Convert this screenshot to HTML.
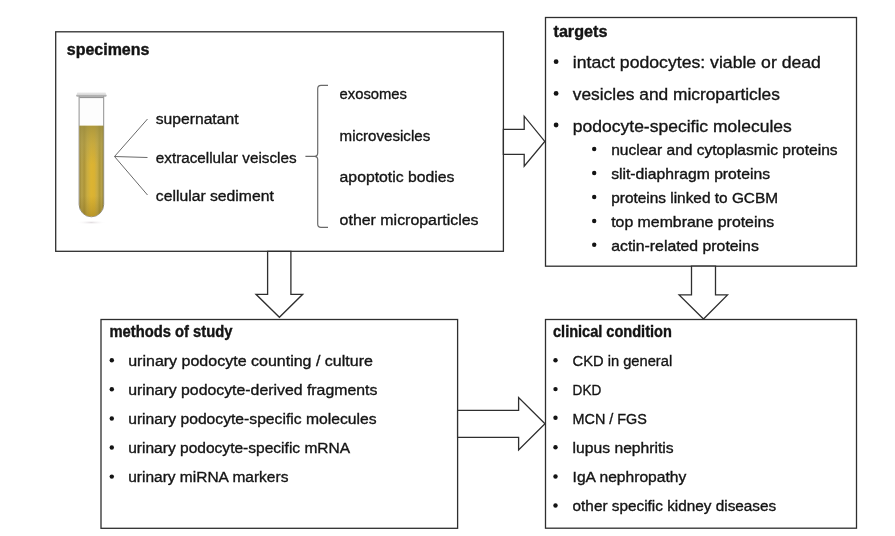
<!DOCTYPE html>
<html><head><meta charset="utf-8"><style>
html,body{margin:0;padding:0;background:#fff;}
body{width:895px;height:536px;overflow:hidden;}
svg{display:block;font-family:"Liberation Sans", sans-serif;will-change:transform;}
</style></head><body>
<svg width="895" height="536" viewBox="0 0 895 536">
<rect width="895" height="536" fill="#fff"/>

<defs>
 <linearGradient id="liq" x1="0" x2="1" y1="0" y2="0">
  <stop offset="0" stop-color="#9a8636"/>
  <stop offset="0.1" stop-color="#b8a24a"/>
  <stop offset="0.2" stop-color="#ad9438"/>
  <stop offset="0.32" stop-color="#c8ac42"/>
  <stop offset="0.48" stop-color="#dcb432"/>
  <stop offset="0.62" stop-color="#dab232"/>
  <stop offset="0.74" stop-color="#c8ac46"/>
  <stop offset="0.84" stop-color="#ae9838"/>
  <stop offset="0.93" stop-color="#b8a24c"/>
  <stop offset="1" stop-color="#948234"/>
 </linearGradient>
 <linearGradient id="liqv" x1="0" x2="0" y1="125.8" y2="218" gradientUnits="userSpaceOnUse">
  <stop offset="0" stop-color="#9a8c40" stop-opacity="0.7"/>
  <stop offset="0.2" stop-color="#aa9c50" stop-opacity="0.4"/>
  <stop offset="0.42" stop-color="#aa9c50" stop-opacity="0.0"/>
  <stop offset="0.76" stop-color="#6a5210" stop-opacity="0.0"/>
  <stop offset="0.92" stop-color="#6a5210" stop-opacity="0.2"/>
  <stop offset="1" stop-color="#6a5210" stop-opacity="0.32"/>
 </linearGradient>
 <linearGradient id="rim" x1="0" x2="0" y1="0" y2="1">
  <stop offset="0" stop-color="#e8e8e8"/>
  <stop offset="0.6" stop-color="#d8d8d8"/>
  <stop offset="1" stop-color="#a0a0a0"/>
 </linearGradient>
 <radialGradient id="shadow" cx="0.5" cy="0.5" r="0.5">
  <stop offset="0" stop-color="#e2dde0"/>
  <stop offset="1" stop-color="#fff" stop-opacity="0"/>
 </radialGradient>
</defs>
<ellipse cx="91.3" cy="222.5" rx="15" ry="2.2" fill="url(#shadow)"/>
<path d="M79.1,96 L79.1,204.5 A12.3,12.3 0 0 0 103.7,204.5 L103.7,96 Z" fill="#fdfdfd" stroke="#737373" stroke-width="0.8"/>
<path d="M79.4,125.8 L79.4,204.5 A12,12 0 0 0 103.4,204.5 L103.4,125.8 Z" fill="url(#liq)"/>
<path d="M79.4,125.8 L79.4,204.5 A12,12 0 0 0 103.4,204.5 L103.4,125.8 Z" fill="url(#liqv)"/>
<line x1="79.5" y1="97.6" x2="103.3" y2="97.6" stroke="#8a8a8a" stroke-width="1"/>
<path d="M77.3,92.6 L105.5,92.6 L106.8,96.0 L76.0,96.0 Z" fill="url(#rim)"/>
<line x1="76.5" y1="96.3" x2="106.3" y2="96.3" stroke="#a6a6a6" stroke-width="0.8"/>

<rect x="55.7" y="31.8" width="447.7" height="219.5" fill="none" stroke="#2e2e2e" stroke-width="1.3"/>
<rect x="545.5" y="17.5" width="311.0" height="248.7" fill="none" stroke="#2e2e2e" stroke-width="1.3"/>
<rect x="101" y="319.5" width="356.6" height="208.79999999999995" fill="none" stroke="#2e2e2e" stroke-width="1.3"/>
<rect x="545.5" y="319.5" width="311.0" height="208.70000000000005" fill="none" stroke="#2e2e2e" stroke-width="1.3"/>
<polygon points="503.4,129.3 524.2,129.3 524.2,116.2 544.8,141.4 524.2,166.1 524.2,154.4 503.4,154.4" fill="#fff" stroke="#2e2e2e" stroke-width="1.3" stroke-linejoin="miter"/>
<polygon points="267.6,251.3 290.9,251.3 290.9,294.3 302.7,294.3 279.4,317.3 256,294.3 267.6,294.3" fill="#fff" stroke="#2e2e2e" stroke-width="1.3" stroke-linejoin="miter"/>
<polygon points="691.5,266.2 715.5,266.2 715.5,294.85 727.5,294.85 703.5,319 679.1,294.85 691.5,294.85" fill="#fff" stroke="#2e2e2e" stroke-width="1.3" stroke-linejoin="miter"/>
<polygon points="457.6,410.4 518.6,410.4 518.6,397.5 545,423.8 518.6,450 518.6,437.3 457.6,437.3" fill="#fff" stroke="#2e2e2e" stroke-width="1.3" stroke-linejoin="miter"/>
<text x="66.8" y="55.0" font-size="16" font-weight="bold" textLength="82.6" lengthAdjust="spacingAndGlyphs" fill="#141414" stroke="#141414" stroke-width="0.4">specimens</text>
<text x="553.5" y="36.6" font-size="16" font-weight="bold" textLength="53.9" lengthAdjust="spacingAndGlyphs" fill="#141414" stroke="#141414" stroke-width="0.4">targets</text>
<text x="109.5" y="337.2" font-size="16" font-weight="bold" textLength="122.9" lengthAdjust="spacingAndGlyphs" fill="#141414" stroke="#141414" stroke-width="0.4">methods of study</text>
<text x="553" y="337.0" font-size="16" font-weight="bold" textLength="118.8" lengthAdjust="spacingAndGlyphs" fill="#141414" stroke="#141414" stroke-width="0.4">clinical condition</text>
<text x="155.8" y="123.5" font-size="15.4" textLength="82.7" lengthAdjust="spacingAndGlyphs" fill="#141414" stroke="#141414" stroke-width="0.35">supernatant</text>
<text x="155.8" y="163.0" font-size="15.4" textLength="140.8" lengthAdjust="spacingAndGlyphs" fill="#141414" stroke="#141414" stroke-width="0.35">extracellular veiscles</text>
<text x="155.8" y="200.8" font-size="15.4" textLength="118.0" lengthAdjust="spacingAndGlyphs" fill="#141414" stroke="#141414" stroke-width="0.35">cellular sediment</text>
<text x="339.6" y="99.0" font-size="15.4" textLength="67.4" lengthAdjust="spacingAndGlyphs" fill="#141414" stroke="#141414" stroke-width="0.35">exosomes</text>
<text x="339.6" y="140.8" font-size="15.4" textLength="90.6" lengthAdjust="spacingAndGlyphs" fill="#141414" stroke="#141414" stroke-width="0.35">microvesicles</text>
<text x="339.6" y="182.2" font-size="15.4" textLength="114.9" lengthAdjust="spacingAndGlyphs" fill="#141414" stroke="#141414" stroke-width="0.35">apoptotic bodies</text>
<text x="339.6" y="224.6" font-size="15.4" textLength="139.0" lengthAdjust="spacingAndGlyphs" fill="#141414" stroke="#141414" stroke-width="0.35">other microparticles</text>
<g stroke="#6a6a6a" stroke-width="1" fill="none"><path d="M147.5,119 L114.5,156.5 L147.5,195 M114.5,156.5 L147.5,157.5"/></g>
<path d="M328,85.4 L321,85.4 Q317.7,85.4 317.7,88.7 L317.7,153 Q317.7,156.3 314.5,156.3 L305.4,156.3 L314.5,156.3 Q317.7,156.3 317.7,159.6 L317.7,224.1 Q317.7,227.4 321,227.4 L328,227.4" stroke="#6a6a6a" stroke-width="1.2" fill="none"/>
<circle cx="556.1" cy="61.7" r="2.4" fill="#141414"/>
<text x="572.8" y="68.2" font-size="17.2" textLength="248.1" lengthAdjust="spacingAndGlyphs" fill="#141414" stroke="#141414" stroke-width="0.35">intact podocytes: viable or dead</text>
<circle cx="556.1" cy="93.4" r="2.4" fill="#141414"/>
<text x="572.8" y="99.9" font-size="17.2" textLength="207.1" lengthAdjust="spacingAndGlyphs" fill="#141414" stroke="#141414" stroke-width="0.35">vesicles and microparticles</text>
<circle cx="556.1" cy="125.0" r="2.4" fill="#141414"/>
<text x="572.8" y="131.5" font-size="17.2" textLength="219.0" lengthAdjust="spacingAndGlyphs" fill="#141414" stroke="#141414" stroke-width="0.35">podocyte-specific molecules</text>
<circle cx="594.2" cy="149.0" r="2.2" fill="#141414"/>
<text x="611.2" y="155" font-size="13.9" textLength="226.4" lengthAdjust="spacingAndGlyphs" fill="#141414" stroke="#141414" stroke-width="0.35">nuclear and cytoplasmic proteins</text>
<circle cx="594.2" cy="173.0" r="2.2" fill="#141414"/>
<text x="611.2" y="179" font-size="13.9" textLength="158.8" lengthAdjust="spacingAndGlyphs" fill="#141414" stroke="#141414" stroke-width="0.35">slit-diaphragm proteins</text>
<circle cx="594.2" cy="197.0" r="2.2" fill="#141414"/>
<text x="611.2" y="203" font-size="13.9" textLength="166.9" lengthAdjust="spacingAndGlyphs" fill="#141414" stroke="#141414" stroke-width="0.35">proteins linked to GCBM</text>
<circle cx="594.2" cy="221.0" r="2.2" fill="#141414"/>
<text x="611.2" y="227" font-size="13.9" textLength="163.0" lengthAdjust="spacingAndGlyphs" fill="#141414" stroke="#141414" stroke-width="0.35">top membrane proteins</text>
<circle cx="594.2" cy="244.8" r="2.2" fill="#141414"/>
<text x="611.2" y="250.8" font-size="13.9" textLength="147.6" lengthAdjust="spacingAndGlyphs" fill="#141414" stroke="#141414" stroke-width="0.35">actin-related proteins</text>
<circle cx="111.8" cy="360.3" r="2.2" fill="#141414"/>
<text x="128.2" y="366" font-size="15.2" textLength="244.7" lengthAdjust="spacingAndGlyphs" fill="#141414" stroke="#141414" stroke-width="0.35">urinary podocyte counting / culture</text>
<circle cx="111.8" cy="389.3" r="2.2" fill="#141414"/>
<text x="128.2" y="395" font-size="15.2" textLength="249.2" lengthAdjust="spacingAndGlyphs" fill="#141414" stroke="#141414" stroke-width="0.35">urinary podocyte-derived fragments</text>
<circle cx="111.8" cy="418.5" r="2.2" fill="#141414"/>
<text x="128.2" y="424.2" font-size="15.2" textLength="248.3" lengthAdjust="spacingAndGlyphs" fill="#141414" stroke="#141414" stroke-width="0.35">urinary podocyte-specific molecules</text>
<circle cx="111.8" cy="447.5" r="2.2" fill="#141414"/>
<text x="128.2" y="453.2" font-size="15.2" textLength="222.0" lengthAdjust="spacingAndGlyphs" fill="#141414" stroke="#141414" stroke-width="0.35">urinary podocyte-specific mRNA</text>
<circle cx="111.8" cy="476.6" r="2.2" fill="#141414"/>
<text x="128.2" y="482.3" font-size="15.2" textLength="160.2" lengthAdjust="spacingAndGlyphs" fill="#141414" stroke="#141414" stroke-width="0.35">urinary miRNA markers</text>
<circle cx="555.5" cy="360.2" r="2.2" fill="#141414"/>
<text x="572.6" y="365.9" font-size="15.2" textLength="99.6" lengthAdjust="spacingAndGlyphs" fill="#141414" stroke="#141414" stroke-width="0.35">CKD in general</text>
<circle cx="555.5" cy="389.1" r="2.2" fill="#141414"/>
<text x="572.6" y="394.8" font-size="15.2" textLength="28.7" lengthAdjust="spacingAndGlyphs" fill="#141414" stroke="#141414" stroke-width="0.35">DKD</text>
<circle cx="555.5" cy="417.8" r="2.2" fill="#141414"/>
<text x="572.6" y="423.5" font-size="15.2" textLength="74.3" lengthAdjust="spacingAndGlyphs" fill="#141414" stroke="#141414" stroke-width="0.35">MCN / FGS</text>
<circle cx="555.5" cy="447.3" r="2.2" fill="#141414"/>
<text x="572.6" y="453" font-size="15.2" textLength="101.1" lengthAdjust="spacingAndGlyphs" fill="#141414" stroke="#141414" stroke-width="0.35">lupus nephritis</text>
<circle cx="555.5" cy="476.5" r="2.2" fill="#141414"/>
<text x="572.6" y="482.2" font-size="15.2" textLength="113.7" lengthAdjust="spacingAndGlyphs" fill="#141414" stroke="#141414" stroke-width="0.35">IgA nephropathy</text>
<circle cx="555.5" cy="505.5" r="2.2" fill="#141414"/>
<text x="572.6" y="511.2" font-size="15.2" textLength="203.6" lengthAdjust="spacingAndGlyphs" fill="#141414" stroke="#141414" stroke-width="0.35">other specific kidney diseases</text>
</svg>
</body></html>
